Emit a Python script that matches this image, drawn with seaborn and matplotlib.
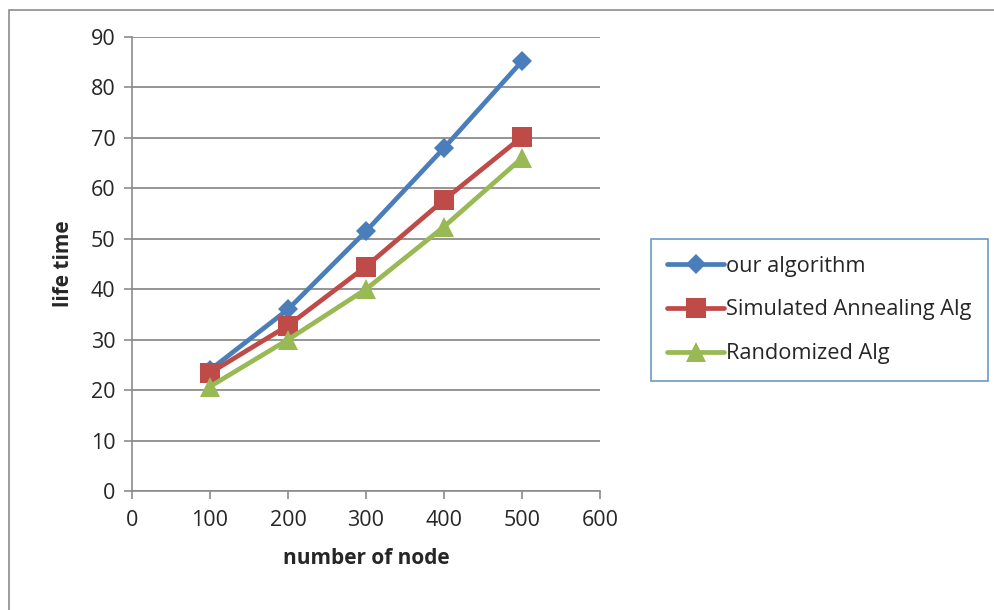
import pandas as pd
import seaborn as sns
import matplotlib.pyplot as plt
from matplotlib.patches import Rectangle

# dados
nos = [100, 200, 300, 400, 500]
nosso_alg = [24, 36, 51.5, 68, 85.2]
simulated = [23.4, 32.8, 44.5, 57.7, 70.2]
randomized = [20.7, 30, 40, 52.4, 66]
series = ['our algorithm', 'Simulated Annealing Alg', 'Randomized Alg']

df = pd.DataFrame({
    'nos': nos * 3,
    'vida': nosso_alg + simulated + randomized,
    'alg': [s for s in series for _ in nos],
})

sns.set_style('white')
plt.rcParams['font.family'] = ['Open Sans', 'DejaVu Sans']

fig = plt.figure(figsize=(9.95, 6.1), dpi=100)
ax = fig.add_axes([132 / 995, 1 - 491 / 610, 468 / 995, 454 / 610])

# borda externa do gráfico
fig.patches.append(Rectangle((9 / 995, -0.02), 1.1, 1 - 10 / 610 + 0.02,
                             transform=fig.transFigure, fill=False,
                             edgecolor='#8c8c8c', linewidth=1.2))

cores = {'our algorithm': '#4a7ebb', 'Simulated Annealing Alg': '#be4b48',
         'Randomized Alg': '#98b954'}
marcadores = {'our algorithm': 'D', 'Simulated Annealing Alg': 's',
              'Randomized Alg': '^'}

sns.lineplot(data=df, x='nos', y='vida', hue='alg', style='alg',
             palette=cores, markers=marcadores, dashes=False,
             linewidth=3.4, markersize=14, markeredgewidth=0, ax=ax)

for ln in ax.lines:
    if ln.get_marker() == 'D':
        ln.set_markersize(10)

ax.set_xlim(0, 600)
ax.set_ylim(0, 90)
ax.set_xticks(range(0, 601, 100))
ax.set_yticks(range(0, 91, 10))
ax.grid(axis='y', color='#8c8c8c', linewidth=1.3)
ax.set_axisbelow(True)
for s in ['top', 'right']:
    ax.spines[s].set_visible(False)
for s in ['left', 'bottom']:
    ax.spines[s].set_color('#8c8c8c')
    ax.spines[s].set_linewidth(1.2)
ax.tick_params(axis='both', length=6, color='#8c8c8c', width=1.2,
               labelsize=15.5, direction='out', bottom=True, left=True)
ax.tick_params(axis='x', pad=8)
ax.tick_params(axis='y', pad=6)
ax.set_xlabel('number of node', fontsize=15, fontweight='bold', labelpad=12)
ax.set_ylabel('life time', fontsize=15, fontweight='bold', labelpad=12)

leg = ax.legend(loc='center left', bbox_to_anchor=(651 / 995, 1 - 310 / 610),
                bbox_transform=fig.transFigure, fontsize=15.7, frameon=True,
                fancybox=False, handlelength=2.6, handletextpad=0.1,
                labelspacing=1.05, borderpad=0.75, borderaxespad=0, title=None)
leg.get_frame().set_edgecolor('#4a7ebb')
leg.get_frame().set_linewidth(1.2)

fig.savefig('out.png', dpi=100)
